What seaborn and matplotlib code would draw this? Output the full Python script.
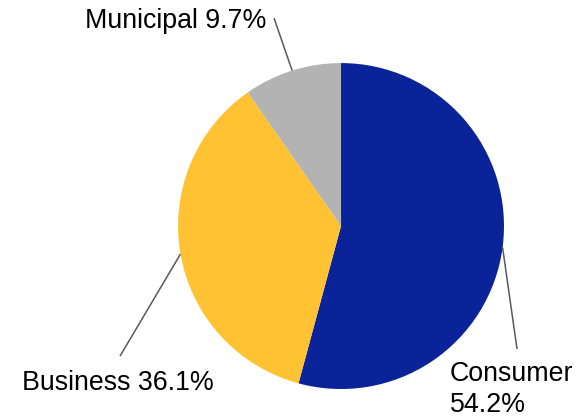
import numpy as np
import matplotlib
matplotlib.use("Agg")
import matplotlib.pyplot as plt
import seaborn as sns

# Revenue share by customer segment
segments = ["Consumer", "Business", "Municipal"]
shares = [54.2, 36.1, 9.7]
label_texts = ["Consumer\n54.2%", "Business 36.1%", "Municipal 9.7%"]
colors = ["#0B2399", "#FFC233", "#B3B3B3"]

sns.set_theme(style="white")
plt.rcParams["font.family"] = ["Liberation Sans", "DejaVu Sans"]

fig = plt.figure(figsize=(5.81, 4.19), dpi=100)
ax = fig.add_axes([0, 0, 1, 1])

wedges, _ = ax.pie(shares, colors=colors, startangle=90, counterclock=False,
                   radius=1.0, center=(0, 0),
                   wedgeprops=dict(linewidth=0))

ax.set_xlim(-2.092, 1.472)
ax.set_ylim(-1.184, 1.387)
ax.set_aspect("equal")
ax.axis("off")

# label anchor (text position, alignment) and leader-line end per segment
label_pos = {
    "Consumer": ((0.669, -0.830), "left", "top", (1.080, -0.755)),
    "Business": ((-1.957, -1.006), "left", "baseline", (-1.356, -0.798)),
    "Municipal": ((-0.460, 1.215), "right", "baseline", (-0.411, 1.276)),
}

for w, seg, txt in zip(wedges, segments, label_texts):
    mid = np.deg2rad((w.theta1 + w.theta2) / 2)
    edge = (np.cos(mid), np.sin(mid))
    (tx, ty), ha, va, lend = label_pos[seg]
    ax.plot([edge[0], lend[0]], [edge[1], lend[1]], color="#595959", lw=1.1,
            solid_capstyle="butt")
    ax.text(tx, ty, txt, ha=ha, va=va, fontsize=19.3, color="black",
            linespacing=1.22)

fig.savefig("out.png", dpi=100)
